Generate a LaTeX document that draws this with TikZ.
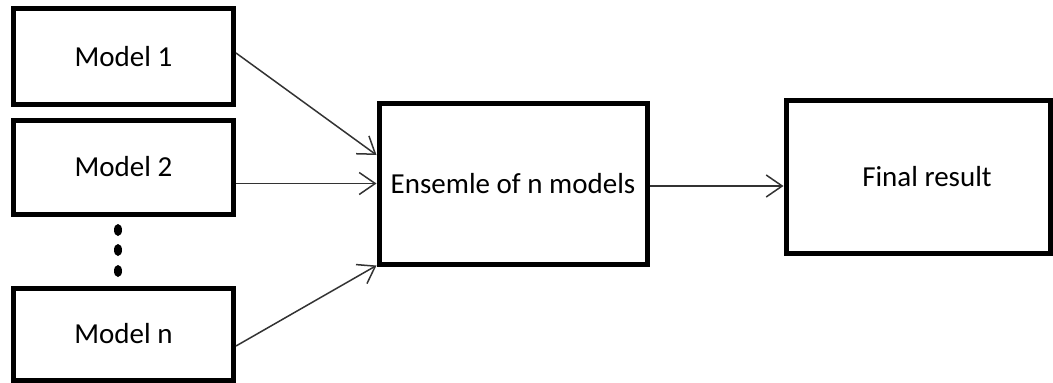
\documentclass[tikz,border=0pt]{standalone}
\usepackage{fontspec}
\setmainfont{Carlito}
\usetikzlibrary{arrows.meta,calc,shapes.geometric}

\tikzset{
  box/.style={draw=black, line width=5pt, rectangle, inner sep=0pt,
              font=\fontsize{29}{35}\selectfont, text=black},
  link/.style={draw=black!80, line width=1.5pt,
               -{Straight Barb[length=16pt,width=22pt,line width=1.5pt]}},
  dot/.style={ellipse, fill=black, inner sep=0pt,
              minimum width=8pt, minimum height=12pt}
}

\begin{document}
\begin{tikzpicture}[x=1pt, y=-1pt]
  \useasboundingbox (0,0) rectangle (1053,383);

  % individual models
  \node[box, minimum width=220pt, minimum height=96pt] (m1) at (123.5,56.5) {Model 1};
  \node[box, minimum width=220pt, minimum height=94pt] (m2) at (123.5,167) {Model 2};
  \node[box, minimum width=220pt, minimum height=92pt] (mn) at (123.5,334) {Model n};

  % vertical ellipsis between model 2 and model n
  \node[dot] (d1) at (118,230) {};
  \node[dot] (d2) at (118,250) {};
  \node[dot] (d3) at (118,271) {};

  % ensemble and result
  \node[box, minimum width=268pt, minimum height=161pt] (ens) at (513,183.5) {Ensemle of n models};
  \node[box, minimum width=264pt, minimum height=153pt,
        label={[font=\fontsize{29}{35}\selectfont, xshift=9pt]center:Final result}] (res) at (918,176.5) {};

  % connectors
  \draw[link] ($(m1.east)+(0,-3.5)$) -- ($(ens.west)+(0,-28.5)$);
  \draw[link] (m2.east |- ens.west) -- (ens.west);
  \draw[link] ($(mn.east)+(0,12)$) -- ($(ens.south west)+(0,-1)$);
  \draw[link] ($(ens.east)+(0,2.5)$) -- ($(res.west |- ens.east)+(0,2.5)$);
\end{tikzpicture}
\end{document}
